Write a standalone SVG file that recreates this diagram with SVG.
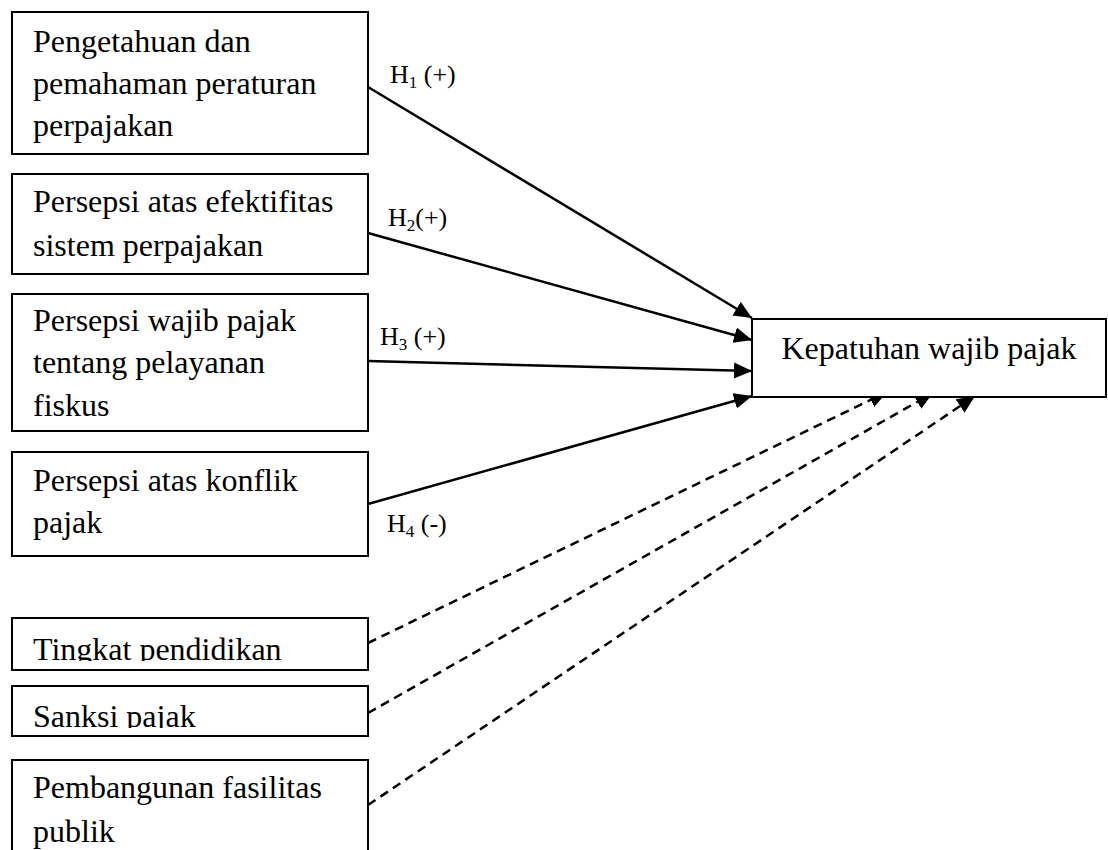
<svg xmlns="http://www.w3.org/2000/svg" width="1108" height="850" viewBox="0 0 1108 850">
<style>
.box{fill:#fff;stroke:#000;stroke-width:2}
.t{font-family:"Liberation Serif","Times New Roman",serif;font-size:32px;fill:#000}
.lbl{font-family:"Liberation Serif","Times New Roman",serif;font-size:26px;fill:#000}
.sub{font-size:17px}
.solid{stroke:#000;stroke-width:2.5;fill:none;marker-end:url(#ah)}
.dash{stroke:#000;stroke-width:2.5;fill:none;stroke-dasharray:9 6;marker-end:url(#ah)}
</style>
<defs>
<marker id="ah" markerUnits="userSpaceOnUse" markerWidth="19" markerHeight="17" refX="18" refY="8" orient="auto" viewBox="0 0 19 16">
<path d="M0,0 L18,8 L0,16 z" fill="#000" stroke="none"/>
</marker>
<clipPath id="c5"><rect x="12" y="618" width="356" height="43"/></clipPath>
<clipPath id="c6"><rect x="12" y="686" width="356" height="42"/></clipPath>
</defs>
<g id="connectors">
<line class="solid" x1="368" y1="87" x2="752" y2="318"/>
<line class="solid" x1="368" y1="233" x2="752" y2="340"/>
<line class="solid" x1="368" y1="361" x2="752" y2="371"/>
<line class="solid" x1="368" y1="504" x2="752" y2="396"/>
<line class="dash" x1="368" y1="643" x2="887" y2="392"/>
<line class="dash" x1="368" y1="713" x2="933" y2="393"/>
<line class="dash" x1="368" y1="805" x2="975" y2="396"/>
</g>
<g id="labels">
<text class="lbl" x="390" y="83">H<tspan class="sub" dy="5">1</tspan><tspan dy="-5"> (+)</tspan></text>
<text class="lbl" x="388" y="226">H<tspan class="sub" dy="5">2</tspan><tspan dy="-5">(+)</tspan></text>
<text class="lbl" x="380" y="345">H<tspan class="sub" dy="5">3</tspan><tspan dy="-5"> (+)</tspan></text>
<text class="lbl" x="387" y="532">H<tspan class="sub" dy="5">4</tspan><tspan dy="-5"> (-)</tspan></text>
</g>
<g id="n1">
<rect class="box" x="12" y="12" width="356" height="142"/>
<text class="t" x="33" y="52">Pengetahuan dan</text>
<text class="t" x="33" y="94">pemahaman peraturan</text>
<text class="t" x="33" y="136">perpajakan</text>
</g>
<g id="n2">
<rect class="box" x="12" y="174" width="356" height="100"/>
<text class="t" x="33" y="212">Persepsi atas efektifitas</text>
<text class="t" x="33" y="256">sistem perpajakan</text>
</g>
<g id="n3">
<rect class="box" x="12" y="294" width="356" height="137"/>
<text class="t" x="33" y="331">Persepsi wajib pajak</text>
<text class="t" x="33" y="373">tentang pelayanan</text>
<text class="t" x="33" y="416">fiskus</text>
</g>
<g id="n4">
<rect class="box" x="12" y="452" width="356" height="104"/>
<text class="t" x="33" y="491">Persepsi atas konflik</text>
<text class="t" x="33" y="533">pajak</text>
</g>
<g id="n5">
<rect class="box" x="12" y="618" width="356" height="52"/>
<text class="t" x="33" y="660" clip-path="url(#c5)">Tingkat pendidikan</text>
</g>
<g id="n6">
<rect class="box" x="12" y="686" width="356" height="50"/>
<text class="t" x="33" y="727" clip-path="url(#c6)">Sanksi pajak</text>
</g>
<g id="n7">
<rect class="box" x="12" y="760" width="356" height="110"/>
<text class="t" x="33" y="798">Pembangunan fasilitas</text>
<text class="t" x="33" y="842">publik</text>
</g>
<g id="target">
<rect class="box" x="752" y="319" width="354" height="78"/>
<text class="t" x="929" y="359" text-anchor="middle">Kepatuhan wajib pajak</text>
</g>
</svg>
